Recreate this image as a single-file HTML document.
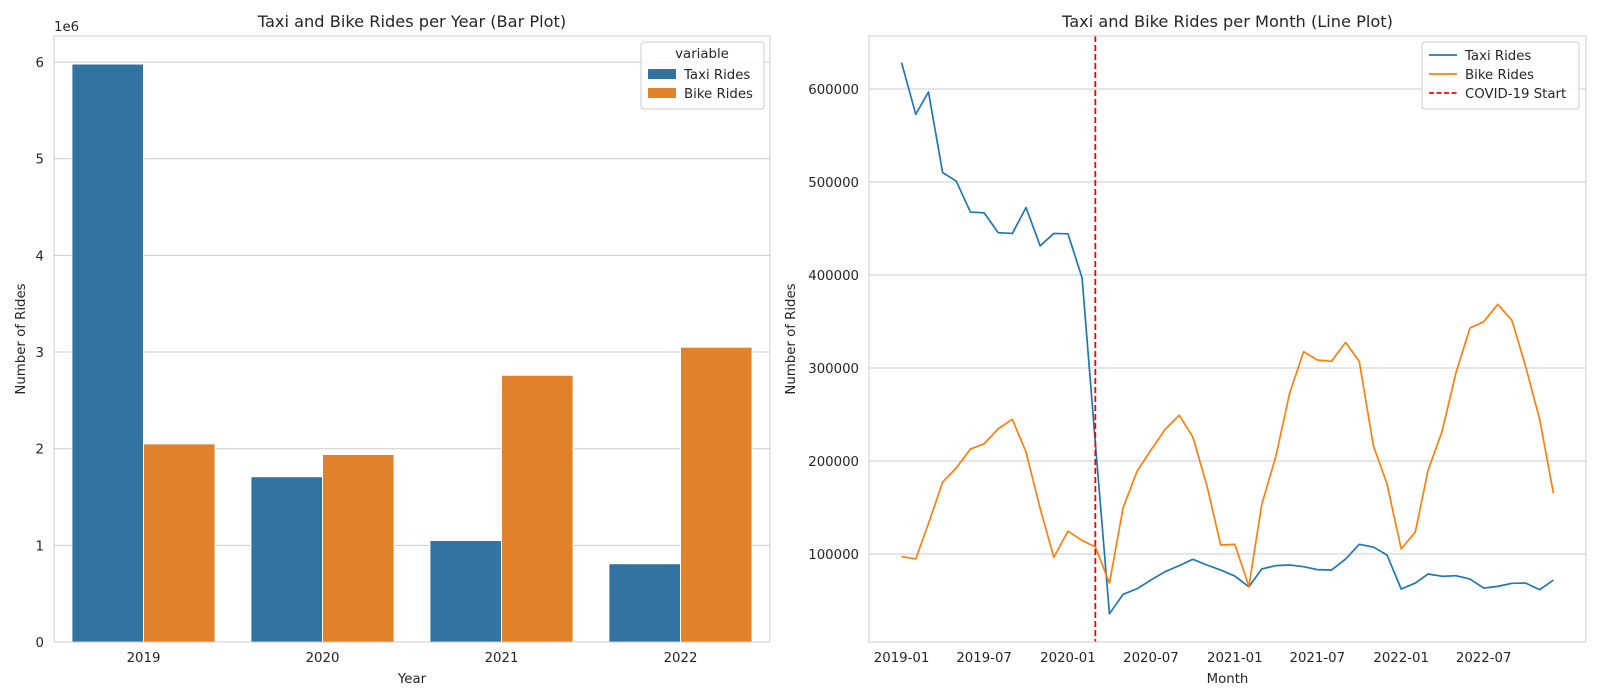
<!DOCTYPE html>
<html><head><meta charset="utf-8"><style>
html,body{margin:0;padding:0;background:#fff;}
svg{display:block;font-family:"DejaVu Sans","Liberation Sans",sans-serif;fill:#262626;}
</style></head><body>
<svg id="fig" width="1600" height="700" viewBox="0 0 1600 700" xmlns="http://www.w3.org/2000/svg"></svg>
<script>
// ---- Bar chart data ----
const years = ['2019','2020','2021','2022'];
const taxiYear = [5.98e6, 1.71e6, 1.05e6, 0.81e6];
const bikeYear = [2.05e6, 1.94e6, 2.76e6, 3.05e6];
const barTicks = [0,1,2,3,4,5,6];
// ---- Line chart data (monthly, 2019-01 .. 2022-12) ----
const taxiMonth = [628300,572900,596800,510200,500900,467700,466900,445500,444700,472600,431300,444700,
  444300,396900,219700,35700,56700,62800,72100,81000,87500,94300,88200,82800,
  76300,64800,83900,87500,88200,86400,83200,82800,94600,110400,107500,98900,
  62400,68800,78500,76000,76700,73100,63400,65200,68500,68800,61600,72000];
const bikeMonth = [97200,94700,132800,177300,192600,212900,218500,234700,244800,209600,148900,96400,
  124700,114600,107700,68800,149800,189400,211700,233900,249300,225800,173100,109700,
  110400,65200,153000,205000,272400,317600,308600,307200,327600,307200,216500,175300,
  105400,123700,190000,232300,294600,343000,349800,368500,351300,301800,244400,165300];
const lineYTicks = [100000,200000,300000,400000,500000,600000];
const monthTicks = ['2019-01','2019-07','2020-01','2020-07','2021-01','2021-07','2022-01','2022-07'];
const covidDate = '2020-03';

const FS='13.3px', TS='16.2px';
const NS='http://www.w3.org/2000/svg';
const svg=document.getElementById('fig');
function mk(tag,attrs,parent){const e=document.createElementNS(NS,tag);for(const k in attrs)e.setAttribute(k,attrs[k]);(parent||svg).appendChild(e);return e;}
function txt(s,attrs,parent){const e=mk('text',attrs,parent);e.textContent=s;return e;}

// ================= LEFT: bar chart =================
const L={x0:54,x1:770,y0:36,y1:642};
const byMax=6.27e6;
const by=v=>L.y1-(v/byMax)*(L.y1-L.y0);
const band=(L.x1-L.x0)/years.length;
const bx=i=>L.x0+band*(i+0.5);
const gL=mk('g',{});


barTicks.forEach(t=>{
  const y=by(t*1e6);
  const gl=mk('line',{x1:L.x0,x2:L.x1,y1:y,y2:y,stroke:'#cccccc','stroke-width':1},gL);
  
  
  const tl=txt(String(t),{x:L.x0-10,y:y+5,'text-anchor':'end','font-size':FS},gL);
  
  
});
const bw=band*0.4;
years.forEach((yr,i)=>{
  const c=bx(i);
  const r1=mk('rect',{x:c-bw,y:by(taxiYear[i]),width:bw,height:L.y1-by(taxiYear[i]),fill:'#3274a1',stroke:'#fff','stroke-width':1},gL);
  
  
  const r2=mk('rect',{x:c,y:by(bikeYear[i]),width:bw,height:L.y1-by(bikeYear[i]),fill:'#e1812c',stroke:'#fff','stroke-width':1},gL);
  
  
  const xl=txt(yr,{x:c,y:662,'text-anchor':'middle','font-size':FS},gL);
  
  
});
const fL=mk('rect',{x:L.x0,y:L.y0,width:L.x1-L.x0,height:L.y1-L.y0,fill:'none',stroke:'#cccccc','stroke-width':1},gL);


let e;
e=txt('1e6',{x:L.x0,y:31,'font-size':FS},gL);


e=txt('Taxi and Bike Rides per Year (Bar Plot)',{x:(L.x0+L.x1)/2,y:27,'text-anchor':'middle','font-size':TS},gL);


e=txt('Year',{x:(L.x0+L.x1)/2,y:683,'text-anchor':'middle','font-size':FS},gL);


e=txt('Number of Rides',{x:0,y:0,'text-anchor':'middle','font-size':FS,transform:'translate(25,339) rotate(-90)'},gL);


// legend
const lgL=mk('g',{},gL);


mk('rect',{x:641,y:42,width:123,height:67,rx:3,fill:'#fff','fill-opacity':0.85,stroke:'#cccccc'},lgL);
txt('variable',{x:702,y:58,'text-anchor':'middle','font-size':FS},lgL);
[['Taxi Rides','#3274a1'],['Bike Rides','#e1812c']].forEach((d,i)=>{
  const g=mk('g',{},lgL);
  
  
  mk('rect',{x:648,y:69+i*19,width:28,height:10,fill:d[1]},g);
  txt(d[0],{x:684,y:79+i*19,'font-size':FS},g);
});

// ================= RIGHT: line chart =================
const R={x0:869,x1:1586,y0:36,y1:642};
const yMin=5400,yMax=657000;
const ly=v=>R.y1-(v-yMin)/(yMax-yMin)*(R.y1-R.y0);
const dayOf=s=>{const [y,m]=s.split('-').map(Number);return Date.UTC(y,m-1,1)/864e5;};
const d0=dayOf('2019-01'),d1=dayOf('2022-12');
const span=d1-d0,pad=span*0.05;
const lx=s=>R.x0+(dayOf(s)-d0+pad)/(span+2*pad)*(R.x1-R.x0);
const monthStr=i=>{const y=2019+Math.floor(i/12),m=i%12+1;return y+'-'+(m<10?'0':'')+m;};
const gR=mk('g',{});


lineYTicks.forEach(t=>{
  const y=ly(t);
  const gl=mk('line',{x1:R.x0,x2:R.x1,y1:y,y2:y,stroke:'#cccccc','stroke-width':1},gR);
  
  
  const tl=txt(String(t),{x:R.x0-10,y:y+5,'text-anchor':'end','font-size':FS},gR);
  
  
});
monthTicks.forEach(m=>{
  const tl=txt(m,{x:lx(m),y:662,'text-anchor':'middle','font-size':FS},gR);
  
  
});
function series(vals,color,name){
  const p=vals.map((v,i)=>(i?'L':'M')+lx(monthStr(i)).toFixed(2)+','+ly(v).toFixed(2)).join(' ');
  const el=mk('path',{d:p,fill:'none',stroke:color,'stroke-width':1.7,'stroke-linejoin':'round'},gR);
  
  
}
series(taxiMonth,'#1f77b4','taxi-rides-line');
series(bikeMonth,'#ff7f0e','bike-rides-line');
const cx=lx(covidDate);
e=mk('line',{x1:cx,x2:cx,y1:R.y0,y2:R.y1,stroke:'#ff0000','stroke-width':1.8,'stroke-dasharray':'6,3'},gR);


const fR=mk('rect',{x:R.x0,y:R.y0,width:R.x1-R.x0,height:R.y1-R.y0,fill:'none',stroke:'#cccccc','stroke-width':1},gR);


e=txt('Taxi and Bike Rides per Month (Line Plot)',{x:(R.x0+R.x1)/2,y:27,'text-anchor':'middle','font-size':TS},gR);


e=txt('Month',{x:(R.x0+R.x1)/2,y:683,'text-anchor':'middle','font-size':FS},gR);


e=txt('Number of Rides',{x:0,y:0,'text-anchor':'middle','font-size':FS,transform:'translate(795,339) rotate(-90)'},gR);


const lgR=mk('g',{},gR);


mk('rect',{x:1422,y:42,width:157,height:67,rx:3,fill:'#fff','fill-opacity':0.85,stroke:'#cccccc'},lgR);
[['Taxi Rides','#1f77b4',''],['Bike Rides','#ff7f0e',''],['COVID-19 Start','#ff0000','5,2.5']].forEach((d,i)=>{
  const g=mk('g',{},lgR);
  
  
  const y=55+i*19;
  const ln=mk('line',{x1:1429,x2:1457,y1:y,y2:y,stroke:d[1],'stroke-width':1.7},g);
  if(d[2])ln.setAttribute('stroke-dasharray',d[2]);
  txt(d[0],{x:1465,y:y+5,'font-size':FS},g);
});
</script>
</body></html>
